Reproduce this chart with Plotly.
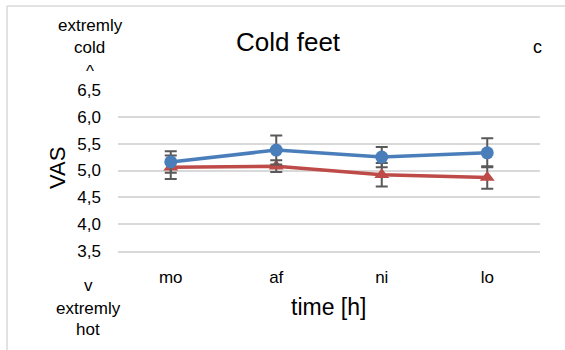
import plotly.graph_objects as go

# Time points and VAS scores (mean and error) for the two groups
times = ["mo", "af", "ni", "lo"]
blue_vals = [5.16, 5.38, 5.25, 5.33]
blue_err = [0.20, 0.27, 0.19, 0.27]
red_vals = [5.06, 5.08, 4.92, 4.87]
red_err = [0.22, 0.11, 0.22, 0.21]
y_ticks = [3.5, 4.0, 4.5, 5.0, 5.5, 6.0, 6.5]

BLUE = "#4a7ebb"
RED = "#be4b48"
ERR = "#595959"
GRID = "#d9d9d9"
FONT = "Liberation Sans, Arial, sans-serif"

# plot area in pixels
L, R, T, B = 118, 540, 90, 251
W, H = 565, 350


def px(x):
    return (x - L) / (R - L)


def py(y):
    return (B - y) / (B - T)


fig = go.Figure()
fig.add_trace(go.Scatter(
    x=times, y=red_vals, mode="lines+markers",
    line=dict(color=RED, width=3.5),
    marker=dict(symbol="triangle-up", size=13, color=RED),
    error_y=dict(type="data", array=red_err, color=ERR, thickness=2, width=6),
    showlegend=False,
))
fig.add_trace(go.Scatter(
    x=times, y=blue_vals, mode="lines+markers",
    line=dict(color=BLUE, width=3.5),
    marker=dict(symbol="circle", size=13, color=BLUE),
    error_y=dict(type="data", array=blue_err, color=ERR, thickness=2, width=6),
    showlegend=False,
))

annotations = [
    dict(text="Cold feet", x=px(288), y=py(42), font=dict(size=26)),
    dict(text="c", x=px(537), y=py(47), font=dict(size=18)),
    dict(text="VAS", x=px(57), y=py(168), font=dict(size=22), textangle=-90),
    dict(text="time [h]", x=px(328), y=py(307), font=dict(size=23)),
    dict(text="extremly", x=px(90), y=py(26), font=dict(size=17)),
    dict(text="cold", x=px(89), y=py(48), font=dict(size=17)),
    dict(text="^", x=px(90), y=py(71), font=dict(size=17)),
    dict(text="v", x=px(88), y=py(285), font=dict(size=17)),
    dict(text="extremly", x=px(88), y=py(308), font=dict(size=17)),
    dict(text="hot", x=px(88), y=py(329), font=dict(size=17)),
]
for a in annotations:
    a.update(xref="paper", yref="paper", showarrow=False,
             xanchor="center", yanchor="middle")
    a["font"].update(family=FONT, color="#000000")
fig.update_layout(annotations=annotations)

# chart frame
fig.add_shape(type="line", xref="paper", yref="paper",
              x0=px(7), x1=px(W + 5), y0=py(6), y1=py(6),
              line=dict(color=GRID, width=1.5))
fig.add_shape(type="line", xref="paper", yref="paper",
              x0=px(7), x1=px(7), y0=py(6), y1=py(H + 5),
              line=dict(color=GRID, width=1.5))

fig.update_xaxes(
    range=[-0.5, 3.5], showgrid=False, showline=True, linecolor=GRID,
    linewidth=1.5, ticks="", tickfont=dict(family=FONT, size=17, color="#000"),
    ticklabelstandoff=10,
)
fig.update_yaxes(
    range=[3.5, 6.5], tickvals=y_ticks, tickformat=".1f", showgrid=True,
    gridcolor=GRID, gridwidth=1.5, zeroline=False, showline=False, ticks="",
    tickfont=dict(family=FONT, size=17, color="#000"), ticklabelstandoff=16,
)
fig.update_layout(
    width=W, height=H, separators=",.",
    margin=dict(l=L, r=W - R, t=T, b=H - B, pad=0),
    paper_bgcolor="white", plot_bgcolor="white",
    font=dict(family=FONT),
)
fig.write_html("out.html")
